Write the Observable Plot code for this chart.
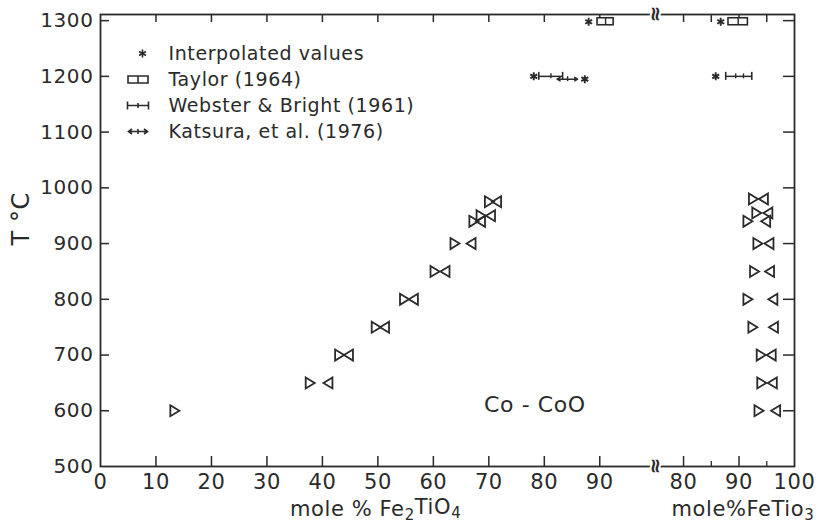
<!DOCTYPE html>
<html><head><meta charset="utf-8">
<script src="https://cdn.jsdelivr.net/npm/d3@7"></script>
<script src="https://cdn.jsdelivr.net/npm/@observablehq/plot@0.6"></script>
<style>body{margin:0;background:#fff}</style>
</head><body><div id="chart"></div>
<script>
// ---- scale set-up: one position axis, FeTiO3 part shifted right of the break ----
const rightShift = 25.1;          // position = mole % FeTiO3 + rightShift
const breakAt = 100;              // axis break (position units)

// ---- tick labels ----
const xLeftTicks  = [0, 10, 20, 30, 40, 50, 60, 70, 80, 90];
const xRightTicks = [80, 90, 100];
const xRightMinor = [85, 95];
const yTicks = [500, 600, 700, 800, 900, 1000, 1100, 1200, 1300];

// ---- Fe2TiO4 side: temperature, approach-from-below (▷) and from-above (◁) ----
const leftT    = [600, 650, 700, 750, 800, 850, 900, 940, 950, 975];
const leftUp   = [13.4, 37.8, 43.1, 49.7, 54.8, 60.3, 63.9, 67.3, 68.6, 70.1];
const leftDown = [null, 41.0, 44.7, 51.2, 56.4, 62.1, 66.8, 68.5, 70.3, 71.4];

// ---- FeTiO3 side ----
const rightT    = [600, 650, 700, 750, 800, 850, 900, 940, 955, 980];
const rightUp   = [93.6, 94.1, 94.0, 92.5, 91.6, 92.8, 93.4, 91.6, 93.2, 92.6];
const rightDown = [96.6, 96.0, 95.8, 96.2, 96.1, 95.5, 95.4, 94.8, 95.2, 94.4];

// ---- interpolated values (asterisks) ----
const interpSide = ["Fe2TiO4", "FeTiO3", "Fe2TiO4", "Fe2TiO4", "FeTiO3"];
const interpX    = [88.0, 86.7, 78.1, 87.3, 85.8];
const interpT    = [1298, 1298, 1200, 1195, 1200];

// ---- Taylor (1964) ----
const taylorSide = ["Fe2TiO4", "FeTiO3"];
const taylorX1   = [89.6, 88.1];
const taylorX2   = [92.5, 91.6];
const taylorT    = [1298, 1298];

// ---- Webster & Bright (1961) ----
const websterSide = ["Fe2TiO4", "FeTiO3"];
const websterX1   = [79.0, 87.6];
const websterX2   = [83.3, 92.3];
const websterT    = [1200, 1200];
const websterTickSide = ["Fe2TiO4", "FeTiO3", "FeTiO3"];
const websterTickX    = [81.2, 89.4, 90.8];
const websterTickT    = [1200, 1200, 1200];

// ---- Katsura et al. (1976) ----
const katsuraSide = ["Fe2TiO4"];
const katsuraX1   = [82.3];
const katsuraX2   = [86.0];
const katsuraMid  = [84.2];
const katsuraT    = [1195];

// ---- texts ----
const legendLabels = ["Interpolated values", "Taylor (1964)", "Webster & Bright (1961)", "Katsura, et al. (1976)"];
const xTitles   = ["mole % Fe₂TiO₄", "mole%FeTio₃"];
const xTitlePos = [49.6, 115.8];
const yTitle = "T °C";
const noteText = ["Co - CoO"]; const noteX = [78.3]; const noteT = [610];

// ---- build tables ----
const pos = (side, v) => side === "FeTiO3" ? v + rightShift : v;
const upRows = [], downRows = [];
leftT.forEach((T, i) => {
  if (leftUp[i] != null) upRows.push({u: leftUp[i], T});
  if (leftDown[i] != null) downRows.push({u: leftDown[i], T});
});
rightT.forEach((T, i) => {
  upRows.push({u: pos("FeTiO3", rightUp[i]), T});
  downRows.push({u: pos("FeTiO3", rightDown[i]), T});
});
const interpRows = interpX.map((v, i) => ({u: pos(interpSide[i], v), T: interpT[i]}));
const taylorRows = taylorX1.map((v, i) => ({u1: pos(taylorSide[i], v), u2: pos(taylorSide[i], taylorX2[i]), T: taylorT[i]}));
const websterRows = websterX1.map((v, i) => ({u1: pos(websterSide[i], v), u2: pos(websterSide[i], websterX2[i]), T: websterT[i]}));
const websterTicks = websterTickX.map((v, i) => ({u: pos(websterTickSide[i], v), T: websterTickT[i]}));
const katsuraRows = katsuraX1.map((v, i) => ({u1: pos(katsuraSide[i], v), u2: pos(katsuraSide[i], katsuraX2[i]), um: pos(katsuraSide[i], katsuraMid[i]), T: katsuraT[i]}));

const xLabelMap = new Map();
xLeftTicks.forEach(v => xLabelMap.set(v, String(v)));
xRightTicks.forEach(v => xLabelMap.set(+(v + rightShift).toFixed(3), String(v)));
const xLabelPos = [...xLabelMap.keys()];
const xMajorTicks = xLabelPos.filter(d => d > 0 && d < 125);
const xMinorTicks = xRightMinor.map(v => v + rightShift);

// ---- symbols ----
const triRight = {draw(c) { c.moveTo(-4.5, -5.5); c.lineTo(4.5, 0); c.lineTo(-4.5, 5.5); c.closePath(); }};
const triLeft  = {draw(c) { c.moveTo(4.5, -5.5); c.lineTo(-4.5, 0); c.lineTo(4.5, 5.5); c.closePath(); }};
const asterisk = {draw(c) { const r = 4; for (const a of [90, 30, 150]) { const t = a * Math.PI / 180; c.moveTo(r * Math.cos(t), r * Math.sin(t)); c.lineTo(-r * Math.cos(t), -r * Math.sin(t)); } }};
const boxSym = {draw(c) { c.rect(-10, -3.5, 20, 7); c.moveTo(0, -3.5); c.lineTo(0, 3.5); }};
const barSym = {draw(c) { c.moveTo(-10.5, 0); c.lineTo(10.5, 0); c.moveTo(-10.5, -4); c.lineTo(-10.5, 4); c.moveTo(10.5, -4); c.lineTo(10.5, 4); c.moveTo(0, -2.5); c.lineTo(0, 2.5); }};
const arrowSym = {draw(c) { c.moveTo(-9.5, 0); c.lineTo(9.5, 0); c.moveTo(-6, -2.5); c.lineTo(-9.5, 0); c.lineTo(-6, 2.5); c.moveTo(6, -2.5); c.lineTo(9.5, 0); c.lineTo(6, 2.5); c.moveTo(0, -2.5); c.lineTo(0, 2.5); }};
const legendSyms = [asterisk, boxSym, barSym, arrowSym];
const legendSymDx = [42, 37.5, 37.5, 37.5];

const W = 825, H = 528, mL = 100, mR = 31, mT = 14, mB = 62;
const fW = W - mL - mR, fH = H - mT - mB;
const ink = "#2a2a2a";

const legendMarks = [];
legendLabels.forEach((lab, i) => {
  const dy = 39 + i * 26;
  legendMarks.push(Plot.dot([0], {frameAnchor: "top-left", dx: legendSymDx[i], dy, symbol: legendSyms[i], stroke: ink, fill: "none", strokeWidth: 1.6}));
  legendMarks.push(Plot.text([lab], {frameAnchor: "top-left", dx: 68, dy, textAnchor: "start", lineAnchor: "middle", fontSize: 19, fill: ink}));
});

const chart = Plot.plot({
  width: W, height: H,
  marginLeft: mL, marginRight: mR, marginTop: mT, marginBottom: mB,
  x: {domain: [0, 125.1]},
  y: {domain: [500, 1311]},
  style: {fontFamily: "DejaVu Sans", fontSize: "19px", color: ink, background: "#fff", letterSpacing: "0.6px", overflow: "visible"},
  marks: [
    Plot.frame({stroke: ink, strokeWidth: 1.8}),
    Plot.axisX({ticks: xLabelPos, tickFormat: d => xLabelMap.get(d), tickSize: 0, tickPadding: 8, label: null, fontSize: 21, letterSpacing: "0.5px"}),
    Plot.axisY({ticks: yTicks, tickFormat: d => String(d), tickSize: 0, tickPadding: 7, label: null, fontSize: 20, letterSpacing: "1px"}),
    // inward ticks
    Plot.ruleX(xMajorTicks, {x: d => d, insetTop: fH - 10, stroke: ink, strokeWidth: 1.5}),
    Plot.ruleX(xMinorTicks, {x: d => d, insetTop: fH - 5, stroke: ink, strokeWidth: 1.3}),
    Plot.ruleX(xMajorTicks.concat(xMinorTicks), {x: d => d, insetBottom: fH - 8, stroke: ink, strokeWidth: 1.5}),
    Plot.ruleY(yTicks.slice(1), {y: d => d, insetRight: fW - 9, stroke: ink, strokeWidth: 1.5}),
    Plot.ruleY(yTicks.slice(1), {y: d => d, insetLeft: fW - 11, stroke: ink, strokeWidth: 1.5}),
    // axis break symbols
    Plot.text([breakAt], {x: d => d, frameAnchor: "top", text: () => "≈", rotate: 90, fontSize: 20, fontWeight: "bold", fill: ink, stroke: "#fff", strokeWidth: 4, lineAnchor: "middle"}),
    Plot.text([breakAt], {x: d => d, frameAnchor: "bottom", text: () => "≈", rotate: 90, fontSize: 20, fontWeight: "bold", fill: ink, stroke: "#fff", strokeWidth: 4, lineAnchor: "middle"}),
    // data
    Plot.dot(upRows, {x: "u", y: "T", symbol: triRight, fill: "none", stroke: ink, strokeWidth: 1.8}),
    Plot.dot(downRows, {x: "u", y: "T", symbol: triLeft, fill: "none", stroke: ink, strokeWidth: 1.8}),
    Plot.dot(interpRows, {x: "u", y: "T", symbol: asterisk, fill: "none", stroke: ink, strokeWidth: 1.9}),
    Plot.rect(taylorRows, {x1: "u1", x2: "u2", y1: "T", y2: "T", insetTop: -3.5, insetBottom: -3.5, fill: "#fff", stroke: ink, strokeWidth: 1.6}),
    Plot.ruleX(taylorRows, {x: d => (d.u1 + d.u2) / 2, y1: "T", y2: "T", insetTop: -3.5, insetBottom: -3.5, stroke: ink, strokeWidth: 1.4}),
    Plot.ruleY(websterRows, {x1: "u1", x2: "u2", y: "T", stroke: ink, strokeWidth: 1.5}),
    Plot.ruleX(websterRows, {x: "u1", y1: "T", y2: "T", insetTop: -4, insetBottom: -4, stroke: ink, strokeWidth: 1.6}),
    Plot.ruleX(websterRows, {x: "u2", y1: "T", y2: "T", insetTop: -4, insetBottom: -4, stroke: ink, strokeWidth: 1.6}),
    Plot.ruleX(websterTicks, {x: "u", y1: "T", y2: "T", insetTop: -2.5, insetBottom: -2.5, stroke: ink, strokeWidth: 1.4}),
    Plot.arrow(katsuraRows, {x1: "um", x2: "u1", y1: "T", y2: "T", headLength: 5, stroke: ink, strokeWidth: 1.5}),
    Plot.arrow(katsuraRows, {x1: "um", x2: "u2", y1: "T", y2: "T", headLength: 5, stroke: ink, strokeWidth: 1.5}),
    Plot.ruleX(katsuraRows, {x: "um", y1: "T", y2: "T", insetTop: -2.5, insetBottom: -2.5, stroke: ink, strokeWidth: 1.4}),
    // annotations
    Plot.text(noteText, {x: (d, i) => noteX[i], y: (d, i) => noteT[i], text: d => d, fontSize: 22, fill: ink, letterSpacing: "0.5px"}),
    Plot.text(xTitles, {x: (d, i) => xTitlePos[i], frameAnchor: "bottom", dy: 49, text: d => d, fontSize: 21, fill: ink}),
    Plot.text([yTitle], {frameAnchor: "left", dx: -79, dy: 5, rotate: -90, fontSize: 24, fill: ink}),
    ...legendMarks
  ]
});
document.getElementById("chart").append(chart);

// render unicode subscripts as real lowered digits
const subMap = {"₂": "2", "₃": "3", "₄": "4"};
d3.select(chart).selectAll("text").each(function () {
  const t = this.textContent;
  if (!/[₂₃₄]/.test(t) || this.children.length) return;
  const el = d3.select(this);
  el.text(null);
  let buf = "", lowered = false;
  const flush = () => {
    if (!buf) return;
    const ts = el.append("tspan").text(buf);
    if (lowered) { ts.attr("dy", "-0.3em"); lowered = false; }
    buf = "";
  };
  for (const ch of t) {
    if (subMap[ch]) {
      flush();
      const ts = el.append("tspan").attr("font-size", "15px").text(subMap[ch]);
      if (!lowered) ts.attr("dy", "0.3em");
      lowered = true;
    } else buf += ch;
  }
  flush();
});
</script>
</body></html>
